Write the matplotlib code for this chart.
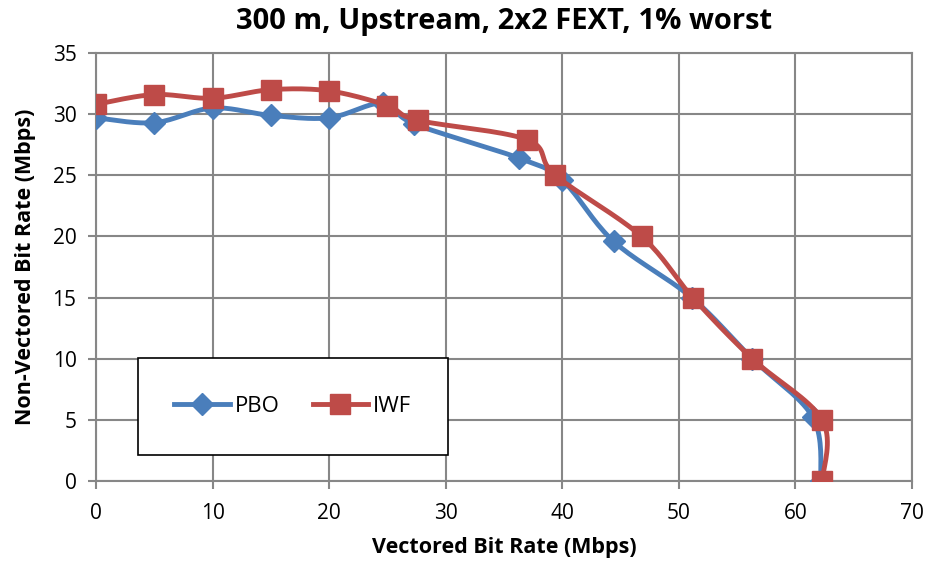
import numpy as np
import matplotlib
matplotlib.use("Agg")
import matplotlib.pyplot as plt
from matplotlib.patches import Rectangle

plt.rcParams['font.family'] = ['Open Sans', 'DejaVu Sans']

# data
pbo_x = [0, 5, 10, 15, 20, 24.6, 27.3, 36.3, 40.0, 44.4, 51.1, 56.3, 61.5, 62.2]
pbo_y = [29.7, 29.3, 30.5, 29.9, 29.7, 30.9, 29.2, 26.4, 24.6, 19.6, 15.0, 10.0, 5.2, 0]
iwf_x = [0, 5, 10, 15, 20, 25, 27.6, 37.0, 39.4, 46.8, 51.2, 56.3, 62.3, 62.3]
iwf_y = [30.8, 31.6, 31.3, 32.0, 31.9, 30.7, 29.5, 27.9, 25.0, 20.0, 15.0, 10.0, 5.0, 0]

title = "300 m, Upstream, 2x2 FEXT, 1% worst"
xlabel = "Vectored Bit Rate (Mbps)"
ylabel = "Non-Vectored Bit Rate (Mbps)"


def smooth(x, y, n=20):
    # excel-like smoothed line: bezier segments with catmull-rom control points
    x = np.asarray(x, float)
    y = np.asarray(y, float)
    px = np.concatenate([[x[0]], x, [x[-1]]])
    py = np.concatenate([[y[0]], y, [y[-1]]])
    out_x, out_y = [], []
    t = np.linspace(0, 1, n)
    for i in range(1, len(px) - 2):
        p0 = np.array([px[i], py[i]])
        p3 = np.array([px[i + 1], py[i + 1]])
        c1 = p0 + (p3 - np.array([px[i - 1], py[i - 1]])) / 6
        c2 = p3 - (np.array([px[i + 2], py[i + 2]]) - p0) / 6
        b = ((1 - t) ** 3)[:, None] * p0 + (3 * (1 - t) ** 2 * t)[:, None] * c1 \
            + (3 * (1 - t) * t ** 2)[:, None] * c2 + (t ** 3)[:, None] * p3
        out_x.extend(b[:, 0])
        out_y.extend(b[:, 1])
    return out_x, out_y


blue = '#4A7EBB'
red = '#BE4B48'

fig = plt.figure(figsize=(9.3, 5.65), dpi=100)
ax = fig.add_axes([0.1032, 0.1487, 0.8774, 0.7575])

sx, sy = smooth(pbo_x, pbo_y)
ax.plot(sx, sy, color=blue, lw=3.5, zorder=3, solid_capstyle='round')
ax.plot(pbo_x, pbo_y, ls='none', marker='D', ms=11, color=blue, zorder=4)
sx, sy = smooth(iwf_x, iwf_y)
ax.plot(sx, sy, color=red, lw=3.5, zorder=5, solid_capstyle='round')
ax.plot(iwf_x, iwf_y, ls='none', marker='s', ms=14, color=red, zorder=6)

# legend handles
ax.plot([], [], color=blue, lw=3.5, marker='D', ms=11, label='PBO')
ax.plot([], [], color=red, lw=3.5, marker='s', ms=14, label='IWF')

ax.set_xlim(0, 70)
ax.set_ylim(0, 35)
ax.set_xticks(range(0, 71, 10))
ax.set_yticks(range(0, 36, 5))
ax.grid(True, color='#878787', lw=1.5)
ax.set_axisbelow(True)
for s in ax.spines.values():
    s.set_color('#878787')
    s.set_linewidth(1.5)
ax.tick_params(colors='#878787', labelcolor='black', labelsize=15, length=6, width=1.5)
ax.tick_params(axis='x', pad=10)
ax.tick_params(axis='y', pad=8)

ax.set_title(title, fontsize=21, fontweight='bold', pad=17)
ax.set_xlabel(xlabel, fontsize=15.5, fontweight='bold', labelpad=9)
ax.set_ylabel(ylabel, fontsize=15.5, fontweight='bold', labelpad=12)

ax.add_patch(Rectangle((0.051, 0.061), 0.38, 0.226, transform=ax.transAxes,
                       facecolor='white', edgecolor='black', lw=1.2, zorder=7))
leg = ax.legend(loc='center', bbox_to_anchor=(0.051, 0.061, 0.38, 0.226), ncol=2,
                frameon=False, fontsize=16, handlelength=2.5, columnspacing=1.5,
                handletextpad=0.2)
leg.set_zorder(8)

fig.savefig('out.png', dpi=100)
